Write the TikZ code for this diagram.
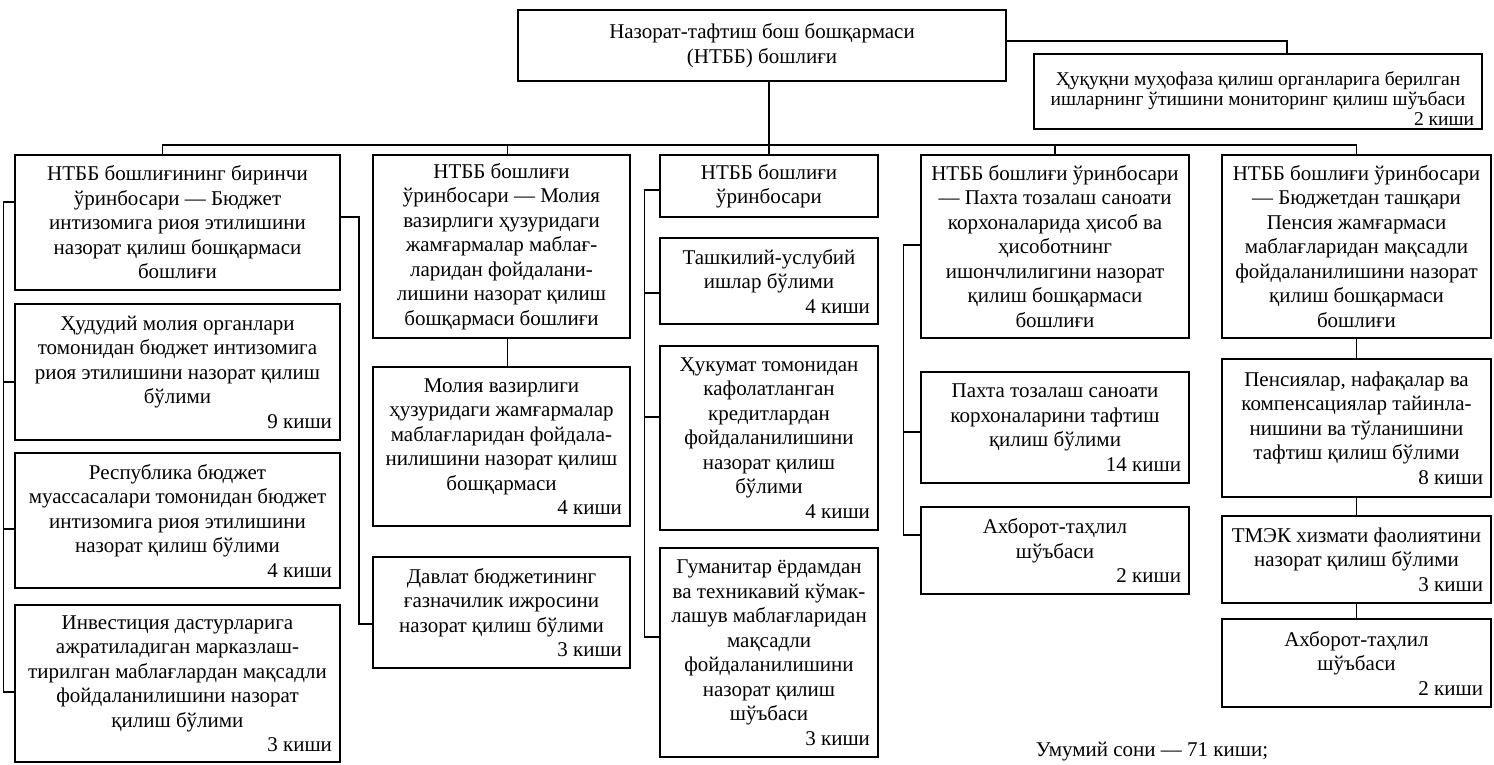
\documentclass[tikz,border=0pt]{standalone}
\usepackage{fontspec}
\setmainfont{Liberation Serif}
\usepackage{tikz}
\usetikzlibrary{calc}
\tikzset{
  unit/.style={draw, line width=1.5pt, inner xsep=2pt, inner ysep=0pt, align=flush center, font=\fontsize{21}{24.5}\selectfont},
  smallunit/.style={unit, font=\fontsize{19.5}{20}\selectfont},
  link/.style={line width=1.5pt},
}
% box from corner (x1,y1) to corner (x2,y2)
\newcommand{\unitbox}[7][unit]{%
  \pgfmathsetmacro{\ubw}{#5-#3}%
  \pgfmathsetmacro{\ubh}{#6-#4}%
  \pgfmathsetmacro{\ubt}{#5-#3-4}%
  \node[#1, minimum width=\ubw pt, minimum height=\ubh pt, text width=\ubt pt] (#2) at ({(#3+#5)/2},{(#4+#6)/2}) {#7};}
\newcommand{\staff}[1]{\\\hspace*{\fill}\mbox{#1~киши\hspace{6pt}}}

\begin{document}
\begin{tikzpicture}[x=1pt,y=-1pt]
        \useasboundingbox (0,0) rectangle (1494,764);

        % head
        \unitbox{head}{518}{10}{1006}{81}{Назорат-тафтиш бош бошқармаси\\(НТББ) бошлиғи}
        \unitbox[smallunit]{mon}{1034}{54}{1482}{129}{\rule{0pt}{27pt}Ҳуқуқни муҳофаза қилиш органларига берилган\\ишларнинг ўтишини мониторинг қилиш шўъбаси\staff{2}}

        % column 1
        \unitbox{c1a}{15}{155}{340}{290}{НТББ бошлиғининг биринчи\\ўринбосари — Бюджет\\интизомига риоя этилишини\\назорат қилиш бошқармаси\\бошлиғи}
        \unitbox{c1b}{15}{304}{340}{440}{Ҳудудий молия органлари\\томонидан бюджет интизомига\\риоя этилишини назорат қилиш\\бўлими\staff{9}}
        \unitbox{c1c}{15}{453}{340}{588}{Республика бюджет\\муассасалари томонидан бюджет\\интизомига риоя этилишини\\назорат қилиш бўлими\staff{4}}
        \unitbox{c1d}{15}{605}{340}{762}{Инвестиция дастурларига\\ажратиладиган марказлаш-\\тирилган маблағлардан мақсадли\\фойдаланилишини назорат\\қилиш бўлими\staff{3}}

        % column 2
        \unitbox{c2a}{373}{155}{630}{338}{НТББ бошлиғи\\ўринбосари — Молия\\вазирлиги ҳузуридаги\\жамғармалар маблағ-\\ларидан фойдалани-\\лишини назорат қилиш\\бошқармаси бошлиғи}
        \unitbox{c2b}{373}{367}{630}{526}{Молия вазирлиги\\ҳузуридаги жамғармалар\\маблағларидан фойдала-\\нилишини назорат қилиш\\бошқармаси\staff{4}}
        \unitbox{c2c}{373}{557}{630}{668}{Давлат бюджетининг\\ғазначилик ижросини\\назорат қилиш бўлими\staff{3}}

        % column 3
        \unitbox{c3a}{660}{155}{878}{217}{НТББ бошлиғи\\ўринбосари}
        \unitbox{c3b}{660}{238}{878}{324}{Ташкилий-услубий\\ишлар бўлими\staff{4}}
        \unitbox{c3c}{660}{346}{878}{530}{Ҳукумат томонидан\\кафолатланган\\кредитлардан\\фойдаланилишини\\назорат қилиш\\бўлими\staff{4}}
        \unitbox{c3d}{660}{548}{878}{757}{Гуманитар ёрдамдан\\ва техникавий кўмак-\\лашув маблағларидан\\мақсадли\\фойдаланилишини\\назорат қилиш\\шўъбаси\staff{3}}

        % column 4
        \unitbox{c4a}{921}{155}{1189}{338}{НТББ бошлиғи ўринбосари\\— Пахта тозалаш саноати\\корхоналарида ҳисоб ва\\ҳисоботнинг\\ишончлилигини назорат\\қилиш бошқармаси\\бошлиғи}
        \unitbox{c4b}{921}{372}{1189}{483}{Пахта тозалаш саноати\\корхоналарини тафтиш\\қилиш бўлими\staff{14}}
        \unitbox{c4c}{921}{507}{1189}{594}{Ахборот-таҳлил\\шўъбаси\staff{2}}

        % column 5
        \unitbox{c5a}{1222}{155}{1491}{338}{НТББ бошлиғи ўринбосари\\— Бюджетдан ташқари\\Пенсия жамғармаси\\маблағларидан мақсадли\\фойдаланилишини назорат\\қилиш бошқармаси\\бошлиғи}
        \unitbox{c5b}{1222}{359}{1491}{497}{Пенсиялар, нафақалар ва\\компенсациялар тайинла-\\нишини ва тўланишини\\тафтиш қилиш бўлими\staff{8}}
        \unitbox{c5c}{1222}{516}{1491}{603}{ТМЭК хизмати фаолиятини\\назорат қилиш бўлими\staff{3}}
        \unitbox{c5d}{1222}{619}{1491}{707}{Ахборот-таҳлил\\шўъбаси\staff{2}}

        \node[font=\fontsize{21}{24.5}\selectfont] (total) at (1152,752) {Умумий сони — 71 киши;};

        % links from head
        \coordinate (bus) at (0,145);
        \draw[link] (head.east |- 0,41) -| ([xshift=29pt]mon.north);
        \draw[link] (head.south -| c3a.north) -- (c3a.north);
        \draw[link] ([xshift=-15pt]c1a.north) |- (c5a.north |- bus) -- (c5a.north);
        \draw[link] ([xshift=6pt]c2a.north) -- ++(0,-10);
        \draw[link] (c4a.north) -- (c4a.north |- bus);

        % column 1 links
        \draw[link] (c1a.west |- 0,202) -- ++(-11,0) |- (c1d.west |- 0,692);
        \draw[link] (c1b.west |- 0,382) -- ++(-11,0);
        \draw[link] (c1c.west |- 0,529) -- ++(-11,0);
        \draw[link] (c1a.east |- 0,217) -- ++(18,0) |- (c2c.west |- 0,624);

        % column 2 links
        \draw[link] ([xshift=6pt]c2a.south) -- ([xshift=6pt]c2b.north);

        % column 3 links
        \draw[link] (c3a.west |- 0,190) -- ++(-15,0) |- (c3d.west |- 0,637);
        \draw[link] (c3b.west |- 0,293) -- ++(-15,0);
        \draw[link] (c3c.west |- 0,417) -- ++(-15,0);

        % column 4 links
        \draw[link] (c4a.west |- 0,245) -- ++(-17,0) |- (c4c.west |- 0,535);
        \draw[link] (c4b.west |- 0,432) -- ++(-17,0);

        % column 5 links
        \draw[link] (c5a.south) -- (c5b.north);
        \draw[link] (c5b.south) -- (c5c.north);
        \draw[link] (c5c.south) -- (c5d.north);
\end{tikzpicture}
\end{document}
